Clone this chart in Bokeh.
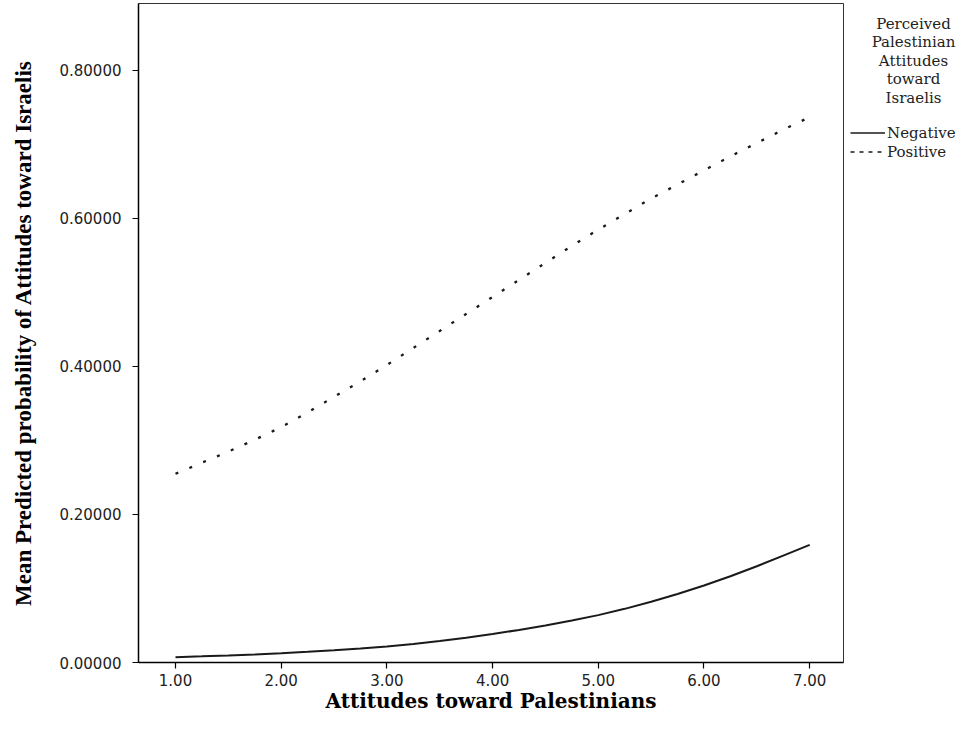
from bokeh.plotting import figure
from bokeh.models import Range1d, NumeralTickFormatter, FixedTicker, Legend, LegendItem
from bokeh.layouts import row
from bokeh.core.properties import value
from bokeh.embed import file_html
from bokeh.resources import INLINE

# Data
x_vals = [1.0, 1.25, 1.5, 1.75, 2.0, 2.25, 2.5, 2.75, 3.0, 3.25, 3.5, 3.75, 4.0,
          4.25, 4.5, 4.75, 5.0, 5.25, 5.5, 5.75, 6.0, 6.25, 6.5, 6.75, 7.0]
negative = [0.0072, 0.0083, 0.0095, 0.0109, 0.0125, 0.0144, 0.0165, 0.0189, 0.0215,
            0.0250, 0.0290, 0.0335, 0.0385, 0.0440, 0.0500, 0.0567, 0.0640, 0.0725,
            0.0820, 0.0925, 0.1040, 0.1165, 0.1300, 0.1445, 0.1590]
positive = [0.255, 0.270, 0.285, 0.301, 0.318, 0.338, 0.359, 0.380, 0.402, 0.425,
            0.448, 0.471, 0.494, 0.517, 0.540, 0.563, 0.585, 0.606, 0.627, 0.646,
            0.665, 0.684, 0.702, 0.720, 0.737]
x_ticks = [1, 2, 3, 4, 5, 6, 7]
y_ticks = [0.0, 0.2, 0.4, 0.6, 0.8]
legend_title = ["Perceived", "Palestinian", "Attitudes", "toward", "Israelis"]
series_names = ["Negative", "Positive"]

H = 715
W1 = 845
W2 = 113
FRAME_TOP = 3
FRAME_BOTTOM = 662
DASH = "3 12"
INK = "#1a1a1a"

p = figure(width=W1, height=H, output_backend="svg", toolbar_location=None,
           x_range=Range1d(0.65, 7.32), y_range=Range1d(0.0, 0.8905),
           min_border_left=138, min_border_right=2, min_border_top=FRAME_TOP,
           min_border_bottom=H - FRAME_BOTTOM)

p.xgrid.visible = False
p.ygrid.visible = False
p.outline_line_color = "#333333"
p.outline_line_width = 1

p.line(x_vals, negative, line_color=INK, line_width=2)
p.line(x_vals, positive, line_color=INK, line_width=2.3, line_dash=DASH)

for ax in (p.xaxis[0], p.yaxis[0]):
    ax.axis_line_color = "black"
    ax.axis_line_width = 1.5
    ax.major_tick_line_color = "black"
    ax.major_tick_line_width = 1.2
    ax.major_tick_out = 6
    ax.major_tick_in = 0
    ax.minor_tick_line_color = None
    ax.major_label_text_font = "DejaVu Sans"
    ax.major_label_text_font_size = "15px"
    ax.major_label_text_color = "#222222"
    ax.axis_label_text_font_style = "bold"
    ax.axis_label_text_color = "black"

p.xaxis[0].ticker = FixedTicker(ticks=x_ticks)
p.xaxis[0].formatter = NumeralTickFormatter(format="0.00")
p.xaxis[0].axis_label = "Attitudes toward Palestinians"
p.xaxis[0].axis_label_text_font = "DejaVu Serif"
p.xaxis[0].axis_label_text_font_size = "20px"
p.xaxis[0].major_label_standoff = 5
p.xaxis[0].axis_label_standoff = 0

p.yaxis[0].ticker = FixedTicker(ticks=y_ticks)
p.yaxis[0].formatter = NumeralTickFormatter(format="0.00000")
p.yaxis[0].axis_label = "Mean Predicted probability of Attitudes toward Israelis"
p.yaxis[0].axis_label_text_font = "Liberation Serif"
p.yaxis[0].axis_label_text_font_size = "23px"
p.yaxis[0].major_label_standoff = 11
p.yaxis[0].axis_label_standoff = 20

# Legend panel on the right (its frame is aligned with the main frame by the row layout)
q = figure(width=W2, height=H, output_backend="svg", toolbar_location=None,
           x_range=Range1d(0, W2), y_range=Range1d(FRAME_BOTTOM, FRAME_TOP),
           x_axis_type=None, y_axis_type=None,
           min_border_left=0, min_border_right=0, min_border_top=FRAME_TOP,
           min_border_bottom=H - FRAME_BOTTOM)
q.outline_line_color = None

title_y = [23, 41, 60, 78, 97]
q.text(x=[68] * len(legend_title), y=title_y, text=legend_title,
       text_align="center", text_baseline="middle",
       text_font=value("DejaVu Serif"), text_font_size="15px", text_color="#222222")

# legend keys (single-point lines draw nothing on the canvas, only their legend glyph)
k_neg = q.line(x=[0], y=[FRAME_TOP], line_color=INK, line_width=1.5)
k_pos = q.line(x=[0], y=[FRAME_TOP], line_color=INK, line_width=1.5, line_dash="4 5")

legend = Legend(items=[LegendItem(label=series_names[0], renderers=[k_neg]),
                       LegendItem(label=series_names[1], renderers=[k_pos])],
                location=(5, FRAME_BOTTOM - 161), orientation="vertical",
                padding=0, margin=0, spacing=0, glyph_width=35, glyph_height=19,
                label_height=19, label_standoff=2,
                label_text_font="DejaVu Serif", label_text_font_size="15px",
                label_text_color="#222222", background_fill_alpha=0,
                border_line_color=None)
q.add_layout(legend, "center")

layout = row(p, q, spacing=0)
open("out.html", "w").write(file_html(layout, INLINE))
